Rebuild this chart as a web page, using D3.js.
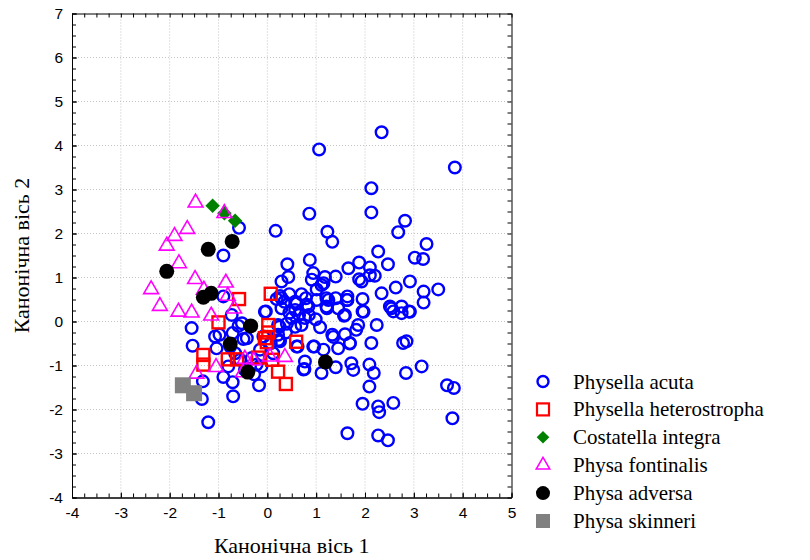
<!DOCTYPE html>
<html>
<head>
<meta charset="utf-8">
<script src="https://cdn.jsdelivr.net/npm/d3@7"></script>
<style>
  body { margin: 0; background: #fff; }
  svg { display: block; }
</style>
</head>
<body>
<div id="chart"></div>
<script>
// canonical scores, one array of [axis1, axis2] per species
var acuta = [
  [2.34,4.30],[1.06,3.91],[3.84,3.50],[2.13,3.03],[2.13,2.48],[0.86,2.45],[2.82,2.29],[2.68,2.03],
  [0.17,2.06],[1.23,2.04],[1.33,1.81],[-0.58,2.13],[3.26,1.76],[-0.90,1.50],[2.27,1.59],[3.02,1.45],
  [3.19,1.42],[0.87,1.40],[0.41,1.30],[2.47,1.30],[1.88,1.34],[1.66,1.21],[2.10,1.23],[0.94,1.10],
  [1.18,1.01],[1.40,1.02],[0.43,1.01],[0.29,0.91],[0.91,0.95],[2.20,1.04],[1.88,0.96],[1.93,0.91],
  [2.92,0.91],[1.11,0.83],[1.01,0.73],[2.63,0.77],[3.50,0.73],[3.20,0.68],[3.20,0.43],[2.34,0.64],
  [2.54,0.30],[2.75,0.34],[2.90,0.23],[2.58,0.23],[2.75,0.19],[1.95,0.51],[1.95,0.23],[1.64,0.57],
  [1.64,0.49],[1.40,0.53],[1.45,0.30],[1.57,0.13],[1.21,0.53],[1.21,0.34],[0.84,0.34],[0.79,0.53],
  [0.57,0.45],[0.57,0.26],[0.29,0.53],[0.29,0.30],[0.26,0.58],[-0.03,0.23],[0.50,0.08],[0.77,0.08],
  [0.99,0.05],[1.08,-0.13],[0.70,-0.08],[1.86,-0.08],[1.82,-0.19],[2.24,-0.08],[1.59,-0.29],[1.33,-0.30],
  [1.69,-0.49],[2.13,-0.49],[1.45,-0.61],[0.96,-0.57],[1.15,-0.64],[0.62,-0.57],[0.26,-0.45],[0.22,-0.08],
  [2.78,-0.49],[2.85,-0.45],[0.77,-0.91],[0.76,-1.08],[1.11,-1.17],[1.40,-1.04],[1.72,-0.95],[1.76,-1.10],
  [2.09,-0.98],[2.18,-1.17],[2.84,-1.17],[3.16,-1.02],[2.09,-1.48],[3.68,-1.45],[3.82,-1.51],[1.95,-1.87],
  [2.27,-1.93],[2.29,-2.06],[2.58,-1.85],[3.79,-2.20],[1.64,-2.54],[2.27,-2.59],[2.47,-2.70],
  [0.57,-0.12],[1.15,0.87],[2.10,1.05],[0.60,0.41],[0.81,0.38],[1.01,0.49],[1.25,0.49],[1.22,0.30],
  [1.63,0.49],[1.59,0.15],[1.97,0.22],[1.35,-0.35],[1.69,-0.50],[0.94,-0.57],[0.74,-1.09],[0.25,-0.12],
  [0.23,-0.42],[0.60,-0.57],[2.51,0.34],[2.92,0.22],
  [-1.55,-0.15],[-1.53,-0.55],[-1.21,-2.29],[-1.34,-1.76],[-1.32,-1.36],[-0.90,-1.26],[-0.71,-1.38],
  [-0.70,-1.70],[-0.17,-1.45],[-0.98,-0.30],[-1.07,-0.34],[-1.04,-0.61],[-0.71,-0.26],[-0.52,-0.04],
  [-0.42,-0.38],[-0.73,0.15],[-0.90,0.57],[-0.66,-0.72],[-0.80,-1.02],[-0.22,-0.98],[-0.12,-1.02],
  [-0.32,-0.83],[-0.15,-0.64],[0.07,-0.49],[-0.08,-0.34],[0.22,-0.30],[0.12,-0.72],[-0.27,-1.20],
  [-0.56,-0.87],[-0.46,-1.10],[-0.76,-0.57],[-0.59,-0.10],[-0.49,-0.40],[-0.05,0.22],[0.19,0.51],
  [0.35,0.45],[0.45,0.20],[0.65,0.15],[0.40,-0.05],[0.85,0.15],[0.45,0.62],[0.70,0.62],[0.38,-0.25]
];
var heterostropha = [
  [0.07,0.63],[-0.58,0.51],[-1.00,-0.02],[0.02,-0.08],[0.02,-0.25],[-0.05,-0.38],[-0.01,-0.47],
  [0.59,-0.46],[-1.31,-0.76],[-1.31,-0.98],[-0.81,-0.86],[-0.62,-0.86],[-0.19,-0.82],[0.10,-0.87],
  [0.22,-1.14],[0.38,-1.42]
];
var costatella = [[-1.12,2.63],[-0.88,2.46],[-0.66,2.29]];
var fontinalis = [
  [-1.47,2.70],[-0.88,2.46],[-1.64,2.10],[-1.90,1.94],[-2.06,1.72],[-1.81,1.32],[-1.48,0.96],
  [-0.85,0.88],[-2.38,0.73],[-0.81,0.58],[-1.30,0.72],[-2.20,0.35],[-1.82,0.22],[-1.55,0.20],
  [-1.15,0.13],[-0.68,0.29],[-1.45,-1.19],[-1.05,-1.04],[-0.46,-0.85],[-0.28,-0.89],[0.05,-0.80],
  [0.36,-0.81],[-0.50,-1.16]
];
var adversa = [
  [-2.06,1.14],[-1.21,1.64],[-0.72,1.82],[-1.31,0.55],[-1.15,0.64],[-0.34,-0.10],[-0.76,-0.51],
  [-0.40,-1.15],[1.19,-0.92]
];
var skinneri = [[-1.73,-1.45],[-1.50,-1.63]];

var speciesNames = ["Physella acuta", "Physella heterostropha", "Costatella integra",
                    "Physa fontinalis", "Physa adversa", "Physa skinneri"];
var xTicks = d3.range(-4, 6);
var yTicks = d3.range(-4, 8);
var xTitle = "Канонічна вісь 1";
var yTitle = "Канонічна вісь 2";

var width = 810, height = 560;
var pLeft = 72, pRight = 511.5, pTop = 13.5, pBottom = 497.5;

var svg = d3.select("#chart").append("svg")
    .attr("width", width)
    .attr("height", height);

var x = d3.scaleLinear().domain([-4, 5]).range([pLeft, pRight]);
var y = d3.scaleLinear().domain([-4, 7]).range([pBottom, pTop]);

// dotted grid
var grid = svg.append("g").attr("stroke", "#c4c4c4").attr("stroke-width", 1)
    .attr("stroke-dasharray", "1,2");
grid.selectAll(".gx").data(xTicks.slice(1, -1)).enter().append("line")
    .attr("x1", function(d){ return x(d); }).attr("x2", function(d){ return x(d); })
    .attr("y1", pTop).attr("y2", pBottom);
grid.selectAll(".gy").data(yTicks.slice(1, -1)).enter().append("line")
    .attr("y1", function(d){ return y(d); }).attr("y2", function(d){ return y(d); })
    .attr("x1", pLeft).attr("x2", pRight);

// minor ticks every 0.25, on all four sides, pointing in
var xMinor = d3.range(-4, 5.001, 0.25);
var yMinor = d3.range(-4, 7.001, 0.25);
function noLabel(){ return ""; }
function plain(d){ return String(d); }
svg.append("g").attr("transform", "translate(0," + pBottom + ")")
    .call(d3.axisBottom(x).tickValues(xMinor).tickSize(-4).tickFormat(noLabel).tickSizeOuter(0));
svg.append("g").attr("transform", "translate(0," + pTop + ")")
    .call(d3.axisTop(x).tickValues(xMinor).tickSize(-4).tickFormat(noLabel).tickSizeOuter(0));
svg.append("g").attr("transform", "translate(" + pLeft + ",0)")
    .call(d3.axisLeft(y).tickValues(yMinor).tickSize(-4).tickFormat(noLabel).tickSizeOuter(0));
svg.append("g").attr("transform", "translate(" + pRight + ",0)")
    .call(d3.axisRight(y).tickValues(yMinor).tickSize(-4).tickFormat(noLabel).tickSizeOuter(0));

// labelled major axes
var xAxis = svg.append("g").attr("transform", "translate(0," + pBottom + ")")
    .call(d3.axisBottom(x).tickValues(xTicks).tickSize(-5).tickPadding(9).tickSizeOuter(0).tickFormat(plain));
var yAxis = svg.append("g").attr("transform", "translate(" + pLeft + ",0)")
    .call(d3.axisLeft(y).tickValues(yTicks).tickSize(-5).tickPadding(9).tickSizeOuter(0).tickFormat(plain));
svg.selectAll(".domain, .tick line").attr("stroke", "#000");
[xAxis, yAxis].forEach(function(a){
  a.selectAll("text").attr("font-family", "Liberation Sans, Arial, sans-serif")
    .attr("font-size", 15.5).attr("fill", "#000");
});

// marker drawers
var plot = svg.append("g");
function circles(data, r, fill, stroke, sw) {
  plot.selectAll(null).data(data).enter().append("circle")
    .attr("cx", function(d){ return x(d[0]); })
    .attr("cy", function(d){ return y(d[1]); })
    .attr("r", r).attr("fill", fill).attr("stroke", stroke).attr("stroke-width", sw);
}
function squares(data, s, fill, stroke, sw) {
  plot.selectAll(null).data(data).enter().append("rect")
    .attr("x", function(d){ return x(d[0]) - s/2; })
    .attr("y", function(d){ return y(d[1]) - s/2; })
    .attr("width", s).attr("height", s)
    .attr("fill", fill).attr("stroke", stroke).attr("stroke-width", sw);
}
function symbols(data, sym, size, rot, fill, stroke, sw) {
  plot.selectAll(null).data(data).enter().append("path")
    .attr("d", d3.symbol().type(sym).size(size))
    .attr("transform", function(d){ return "translate(" + x(d[0]) + "," + y(d[1]) + ") rotate(" + rot + ")"; })
    .attr("fill", fill).attr("stroke", stroke).attr("stroke-width", sw);
}

circles(acuta, 5.8, "none", "#0000ff", 2.4);
squares(heterostropha, 12, "none", "#ff0000", 2.4);
symbols(costatella, d3.symbolSquare, 105, 45, "#008000", "none", 0);
symbols(fontinalis, d3.symbolTriangle, 95, 0, "none", "#ff00ff", 1.6);
circles(adversa, 7.5, "#000", "none", 0);
squares(skinneri, 16, "#808080", "none", 0);

// legend
var legend = svg.append("g");
var rowY = function(i){ return 381.5 + i * 27.9; };
var lx = 543;
legend.append("circle").attr("cx", lx).attr("cy", rowY(0)).attr("r", 5.5)
    .attr("fill", "none").attr("stroke", "#0000ff").attr("stroke-width", 2.4);
legend.append("rect").attr("x", lx - 6).attr("y", rowY(1) - 6).attr("width", 12).attr("height", 12)
    .attr("fill", "none").attr("stroke", "#ff0000").attr("stroke-width", 2.2);
legend.append("path").attr("d", d3.symbol().type(d3.symbolSquare).size(80))
    .attr("transform", "translate(" + lx + "," + rowY(2) + ") rotate(45)").attr("fill", "#008000");
legend.append("path").attr("d", d3.symbol().type(d3.symbolTriangle).size(80))
    .attr("transform", "translate(" + lx + "," + rowY(3) + ")")
    .attr("fill", "none").attr("stroke", "#ff00ff").attr("stroke-width", 1.5);
legend.append("circle").attr("cx", lx).attr("cy", rowY(4)).attr("r", 7).attr("fill", "#000");
legend.append("rect").attr("x", lx - 7).attr("y", rowY(5) - 7).attr("width", 14).attr("height", 14)
    .attr("fill", "#808080");
legend.selectAll("text").data(speciesNames).enter().append("text")
    .attr("x", 573).attr("y", function(d, i){ return rowY(i) + 7; })
    .attr("font-family", "Liberation Serif, Times New Roman, serif")
    .attr("font-size", 21).attr("fill", "#000")
    .text(function(d){ return d; });

// axis titles
svg.append("text").attr("x", (pLeft + pRight) / 2).attr("y", 553)
    .attr("text-anchor", "middle")
    .attr("font-family", "Liberation Serif, Times New Roman, serif").attr("font-size", 22)
    .text(xTitle);
svg.append("text").attr("transform", "translate(29," + (pTop + pBottom) / 2 + ") rotate(-90)")
    .attr("text-anchor", "middle")
    .attr("font-family", "Liberation Serif, Times New Roman, serif").attr("font-size", 22)
    .text(yTitle);
</script>
</body>
</html>
